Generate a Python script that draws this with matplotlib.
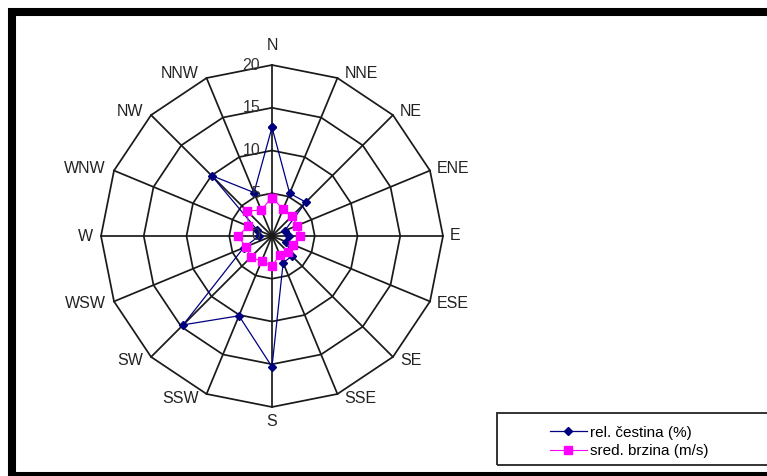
import numpy as np
import matplotlib
matplotlib.use('Agg')
import matplotlib.pyplot as plt
from matplotlib.patches import Rectangle

plt.rcParams['font.family'] = ['Liberation Sans', 'DejaVu Sans']

# wind directions, clockwise from north
directions = ['N', 'NNE', 'NE', 'ENE', 'E', 'ESE', 'SE', 'SSE',
              'S', 'SSW', 'SW', 'WSW', 'W', 'WNW', 'NW', 'NNW']
# relative frequency (%)
rel_cestina = [12.7, 5.4, 5.6, 1.6, 2.0, 1.8, 3.3, 3.4,
               15.3, 10.1, 14.7, 3.6, 1.5, 1.9, 10.0, 5.5]
# mean speed (m/s)
sred_brzina = [4.5, 3.4, 3.3, 3.2, 3.3, 2.7, 2.6, 2.4,
               3.5, 3.2, 3.5, 3.3, 4.0, 3.0, 4.1, 3.3]
rings = [5, 10, 15, 20]
ring_labels = ['0', '5', '10', '15', '20']

W, H = 767, 476
cx, cy, R = 272, 236, 171   # centre and outer radius in pixels
s = R / rings[-1]           # pixels per unit

fig = plt.figure(figsize=(W / 100, H / 100), dpi=100)
ax = fig.add_axes([0, 0, 1, 1])
ax.set_xlim(-cx / s, (W - cx) / s)
ax.set_ylim(-(H - cy) / s, cy / s)
ax.axis('off')

theta = np.deg2rad(np.arange(len(directions)) * 360 / len(directions))
th_closed = np.append(theta, theta[0])

def to_xy(vals):
    v = np.append(vals, vals[0])
    return v * np.sin(th_closed), v * np.cos(th_closed)

# polygon grid
grid_c = '#1a1a1a'
for r in rings:
    ax.plot(r * np.sin(th_closed), r * np.cos(th_closed), color=grid_c, lw=1.25, zorder=1)
for t in theta:
    ax.plot([0, rings[-1] * np.sin(t)], [0, rings[-1] * np.cos(t)], color=grid_c, lw=1.25, zorder=1)

# series
x1, y1 = to_xy(np.array(rel_cestina))
ax.plot(x1, y1, color='#000080', lw=0.9, marker='D', markersize=4.3,
        label='rel. čestina (%)', zorder=3)
x2, y2 = to_xy(np.array(sred_brzina))
ax.plot(x2, y2, color='#ff00ff', lw=0.8, marker='s', markersize=5.6,
        label='sred. brzina (m/s)', zorder=4)

# radial value labels along N axis
for val, lab in zip([0] + rings, ring_labels):
    ax.text(-12 / s, val, lab, ha='right', va='center', fontsize=11.5,
            color='#333333', zorder=5)

# direction labels
for name, t in zip(directions, theta):
    sx, sy = np.sin(t), np.cos(t)
    vx, vy = rings[-1] * sx, rings[-1] * sy
    if abs(sx) < 0.1:
        ha = 'center'
        dx = 0
        dy = 20 if sy > 0 else -15
    else:
        ha = 'left' if sx > 0 else 'right'
        dx = 7 if sx > 0 else -8
        dy = 5 * sy
    ax.annotate(name, (vx, vy), xytext=(dx, dy), textcoords='offset pixels',
                ha=ha, va='center', fontsize=11.5, color='#222222')

# legend box
fig.add_artist(Rectangle((497 / W, 1 - 465 / H), 280 / W, 52 / H,
                         transform=fig.transFigure, fill=False,
                         edgecolor='#333333', lw=1.4))
ax.legend(loc='center left', bbox_to_anchor=(550 / W, 1 - 442 / H),
          bbox_transform=fig.transFigure, frameon=False, borderpad=0,
          borderaxespad=0, handlelength=2.4, handletextpad=0.2,
          labelspacing=0.3, fontsize=11)

# thick outer frame
fig.add_artist(Rectangle((12 / W, 0), 780 / W, 1 - 12 / H,
                         transform=fig.transFigure, fill=False,
                         edgecolor='black', lw=5.8))

fig.savefig('out.png', dpi=100)
